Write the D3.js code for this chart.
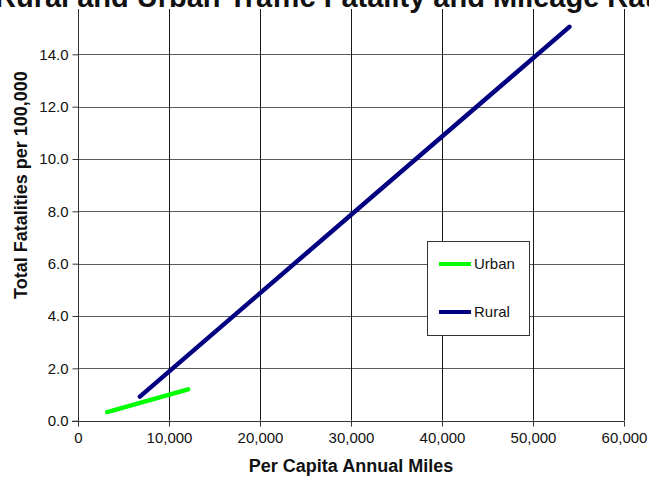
<!DOCTYPE html>
<html>
<head>
<meta charset="utf-8">
<script src="https://cdn.jsdelivr.net/npm/d3@7"></script>
<style>
  html, body { margin: 0; padding: 0; background: #fff; }
  svg { display: block; font-family: "Liberation Sans", Arial, sans-serif; }
</style>
</head>
<body>
<svg id="chart" width="649" height="480"></svg>
<script>
// Per capita annual miles vs. total fatalities per 100,000 population
const seriesNames = ["Urban", "Rural"];
const seriesColors = ["#00ff00", "#000080"];
const urbanMiles = [3200, 12100];
const urbanFatalities = [0.33, 1.20];
const ruralMiles = [6800, 54000];
const ruralFatalities = [0.92, 15.05];
const xTicks = [0, 10000, 20000, 30000, 40000, 50000, 60000];
const yTicks = [0, 2, 4, 6, 8, 10, 12, 14];

(function () {
const svg = d3.select("#chart");
const plotLeft = 78, plotRight = 624, plotBottom = 420.7, plotTop = 9;

const x = d3.scaleLinear().domain([0, 60000]).range([plotLeft, plotRight]);
const y = d3.scaleLinear().domain([0, 16]).range([plotBottom, plotBottom - 16 * 26.17]);

// gridlines
const grid = svg.append("g");
grid.selectAll("line.h").data(yTicks.filter(d => d > 0)).join("line")
  .attr("x1", plotLeft).attr("x2", plotRight)
  .attr("y1", d => Math.round(y(d)) + 0.5).attr("y2", d => Math.round(y(d)) + 0.5)
  .attr("stroke", "#5a5a5a").attr("stroke-width", 1);
grid.selectAll("line.v").data(xTicks.filter(d => d > 0)).join("line")
  .attr("y1", plotTop).attr("y2", plotBottom)
  .attr("x1", d => Math.round(x(d)) + 0.5).attr("x2", d => Math.round(x(d)) + 0.5)
  .attr("stroke", "#1a1a1a").attr("stroke-width", 1);

// axes
const xAxis = d3.axisBottom(x).tickValues(xTicks).tickSize(5).tickPadding(6)
  .tickFormat(d3.format(","));
const yAxis = d3.axisLeft(y).tickValues(yTicks).tickSize(6).tickPadding(4)
  .tickFormat(d3.format(".1f"));

const gx = svg.append("g").attr("transform", `translate(0,${Math.round(plotBottom) + 0.5})`).call(xAxis);
const gy = svg.append("g").attr("transform", `translate(${plotLeft + 0.5},0)`).call(yAxis);
[gx, gy].forEach(g => {
  g.select(".domain").remove();
  g.selectAll(".tick line").attr("stroke", "#333");
  g.selectAll(".tick text").attr("font-size", 15).attr("fill", "#111")
    .attr("font-family", "Liberation Sans, Arial, sans-serif");
});
gx.selectAll(".tick text").attr("dy", "0.71em");
// axis lines
svg.append("line").attr("x1", plotLeft + 0.5).attr("x2", plotLeft + 0.5).attr("y1", plotTop).attr("y2", plotBottom + 5)
  .attr("stroke", "#333");
svg.append("line").attr("x1", plotLeft - 6).attr("x2", plotRight + 0.5)
  .attr("y1", Math.round(plotBottom) + 0.5).attr("y2", Math.round(plotBottom) + 0.5).attr("stroke", "#333");

// series lines
const seriesData = [
  urbanMiles.map((m, i) => [m, urbanFatalities[i]]),
  ruralMiles.map((m, i) => [m, ruralFatalities[i]])
];
const line = d3.line().x(d => x(d[0])).y(d => y(d[1]));
svg.append("g").selectAll("path").data(seriesData).join("path")
  .attr("d", line)
  .attr("fill", "none")
  .attr("stroke", (d, i) => seriesColors[i])
  .attr("stroke-width", 4.5)
  .attr("stroke-linecap", "round");

// legend
const lg = svg.append("g");
lg.append("rect").attr("x", 427.5).attr("y", 241.5).attr("width", 102).attr("height", 94)
  .attr("fill", "#fff").attr("stroke", "#333");
const items = lg.selectAll("g.item").data(seriesNames).join("g")
  .attr("transform", (d, i) => `translate(0,${264 + i * 48})`);
items.append("line").attr("x1", 439).attr("x2", 471).attr("y1", 0).attr("y2", 0)
  .attr("stroke", (d, i) => seriesColors[i]).attr("stroke-width", 4);
items.append("text").attr("x", 474).attr("y", 0).attr("dy", "0.35em")
  .attr("font-size", 15).attr("fill", "#111").text(d => d);

// titles
svg.append("text").attr("x", -5).attr("y", 7)
  .attr("font-size", 29).attr("font-weight", "bold").attr("fill", "#111")
  .text("Rural and Urban Traffic Fatality and Mileage Rates");
svg.append("text").attr("x", (plotLeft + plotRight) / 2).attr("y", 472)
  .attr("text-anchor", "middle").attr("font-size", 18).attr("font-weight", "bold").attr("fill", "#111")
  .text("Per Capita Annual Miles");
svg.append("text").attr("transform", "translate(27,185) rotate(-90)")
  .attr("text-anchor", "middle").attr("font-size", 18).attr("font-weight", "bold").attr("fill", "#111")
  .text("Total Fatalities per 100,000");
})();
</script>
</body>
</html>
